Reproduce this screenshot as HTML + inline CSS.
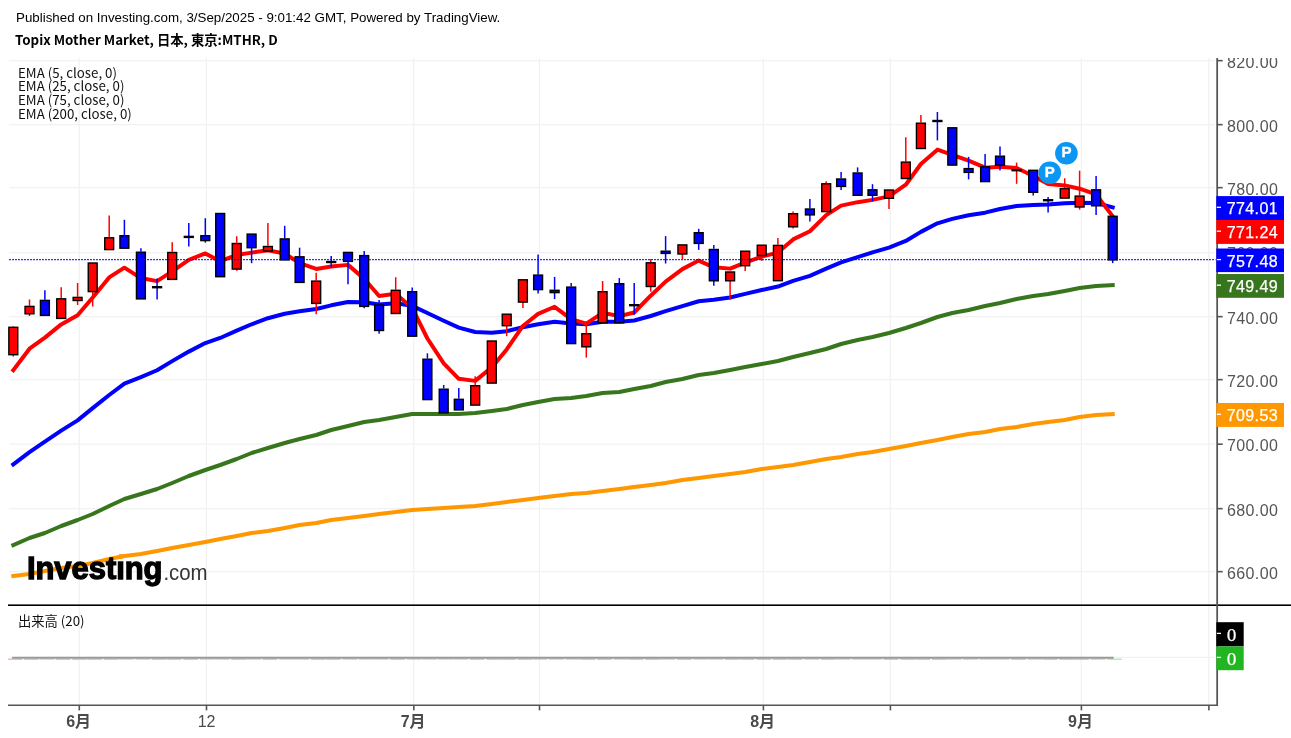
<!DOCTYPE html>
<html><head><meta charset="utf-8"><title>Topix Mother Market</title>
<style>
html,body{margin:0;padding:0;background:#fff;}
body{width:1291px;height:738px;position:relative;overflow:hidden;font-family:"Liberation Sans",sans-serif;}
.t{position:absolute;white-space:nowrap;color:#000;}
#pub{left:16px;top:10px;font-size:13.333px;line-height:16px;font-family:"Liberation Sans",sans-serif;}
#ttl{left:15px;top:31px;font-size:13.333px;line-height:18px;font-weight:bold;font-family:"Noto Sans CJK JP",sans-serif;}
.lg{left:18px;font-size:13.3px;line-height:14px;font-family:"Noto Sans CJK JP",sans-serif;color:#111;}
svg{position:absolute;left:0;top:0;}
</style></head><body>
<svg width="1291" height="738" viewBox="0 0 1291 738">
<line x1="9" x2="1215" y1="60.65" y2="60.65" stroke="#f1f1f1" stroke-width="1.25"/>
<line x1="9" x2="1215" y1="124.65" y2="124.65" stroke="#f1f1f1" stroke-width="1.25"/>
<line x1="9" x2="1215" y1="187.65" y2="187.65" stroke="#f1f1f1" stroke-width="1.25"/>
<line x1="9" x2="1215" y1="252.65" y2="252.65" stroke="#f1f1f1" stroke-width="1.25"/>
<line x1="9" x2="1215" y1="316.65" y2="316.65" stroke="#f1f1f1" stroke-width="1.25"/>
<line x1="9" x2="1215" y1="379.65" y2="379.65" stroke="#f1f1f1" stroke-width="1.25"/>
<line x1="9" x2="1215" y1="444.2" y2="444.2" stroke="#f1f1f1" stroke-width="1.25"/>
<line x1="9" x2="1215" y1="508.65" y2="508.65" stroke="#f1f1f1" stroke-width="1.25"/>
<line x1="9" x2="1215" y1="571.65" y2="571.65" stroke="#f1f1f1" stroke-width="1.25"/>
<line x1="9" x2="1215" y1="657.4" y2="657.4" stroke="#f1f1f1" stroke-width="1.25"/>
<line x1="79.2" x2="79.2" y1="58" y2="705" stroke="#f1f1f1" stroke-width="1.25"/>
<line x1="206.4" x2="206.4" y1="58" y2="705" stroke="#f1f1f1" stroke-width="1.25"/>
<line x1="413.7" x2="413.7" y1="58" y2="705" stroke="#f1f1f1" stroke-width="1.25"/>
<line x1="539.4" x2="539.4" y1="58" y2="705" stroke="#f1f1f1" stroke-width="1.25"/>
<line x1="763.3" x2="763.3" y1="58" y2="705" stroke="#f1f1f1" stroke-width="1.25"/>
<line x1="890.3" x2="890.3" y1="58" y2="705" stroke="#f1f1f1" stroke-width="1.25"/>
<line x1="1081.3" x2="1081.3" y1="58" y2="705" stroke="#f1f1f1" stroke-width="1.25"/>
<line x1="1208.8" x2="1208.8" y1="58" y2="705" stroke="#f1f1f1" stroke-width="1.25"/>
<polyline points="13.3,576 29.5,574 44.9,571 61.2,568 77.6,566 92.7,563 109.2,559 124.4,556 140.9,554 157.1,551 172.2,548 188.8,545 205.3,542 220.2,539 236.7,536 251.6,533 267.9,531 284.7,528 299.6,525 316.2,523 331.2,520 348,518 364.2,516 379.1,514 395.7,512 412.2,510 427.4,509 443.7,508 458.8,507 475.2,506 491.8,504 506.7,502 522.9,500 538.1,498 554.6,496 571.2,494 586.3,493 602.6,491 619.3,489 634.2,487 650.7,485 665.6,483 682.4,480 698.7,478 713.8,476 730.1,474 745.2,472 761.7,469 777.9,467 793.1,465 809.9,462 826.2,459 841.1,457 857.6,454 872.5,452 889,449 905.8,446 920.9,443 937.4,440 952.3,437 968.6,434 985.1,432 1000,429 1016.6,427 1033.2,424 1048.1,422 1064.7,420 1079.6,417 1096.1,415 1112.7,414" fill="none" stroke="#ff9800" stroke-width="4" stroke-linejoin="round" stroke-linecap="square"/>
<polyline points="13.3,545 29.5,538 44.9,533 61.2,526 77.6,520 92.7,514 109.2,506 124.4,499 140.9,494 157.1,489 172.2,483 188.8,476 205.3,470 220.2,465 236.7,459 251.6,453 267.9,448 284.7,443 299.6,439 316.2,435 331.2,430 348,426 364.2,422 379.1,420 395.7,417 412.2,414 427.4,414 443.7,414 458.8,414 475.2,413 491.8,411 506.7,409 522.9,405 538.1,402 554.6,399 571.2,398 586.3,396 602.6,393 619.3,392 634.2,389 650.7,386 665.6,382 682.4,379 698.7,375 713.8,373 730.1,370 745.2,367 761.7,364 777.9,361 793.1,357 809.9,353 826.2,349 841.1,344 857.6,340 872.5,337 889,333 905.8,328 920.9,323 937.4,317 952.3,313 968.6,310 985.1,306 1000,303 1016.6,299 1033.2,296 1048.1,294 1064.7,291 1079.6,288 1096.1,286 1112.7,285.2" fill="none" stroke="#38761d" stroke-width="4" stroke-linejoin="round" stroke-linecap="square"/>
<polyline points="13.3,464.4 29.5,452.19 44.9,441.67 61.2,430.63 77.6,420.32 92.7,408.17 109.2,395.01 124.4,383.72 140.9,377.19 157.1,370.27 172.2,361.16 188.8,351.6 205.3,343.06 220.2,337.96 236.7,330.64 251.6,324.26 267.9,318.22 284.7,313.73 299.6,311.32 316.2,308.95 331.2,305.33 348,301.95 364.2,302.3 379.1,304.47 395.7,303.32 412.2,305.85 427.4,313.06 443.7,320.74 458.8,327.6 475.2,332.02 491.8,332.65 506.7,331.18 522.9,327.17 538.1,324.28 554.6,321.85 571.2,323.52 586.3,324.25 602.6,321.69 619.3,321.78 634.2,320.5 650.7,316.01 665.6,311.19 682.4,306.04 698.7,301.22 713.8,299.65 730.1,297.47 745.2,293.86 761.7,290.06 777.9,286.57 793.1,280.91 809.9,275.83 826.2,268.7 841.1,262.37 857.6,257.21 872.5,252.45 889,247.59 905.8,240.96 920.9,231.85 937.4,223.32 952.3,218.84 968.6,215.27 985.1,212.68 1000,209.02 1016.6,206.03 1033.2,204.98 1048.1,204.61 1064.7,203.33 1079.6,202.72 1096.1,202.96 1112.7,207.34" fill="none" stroke="#0000ff" stroke-width="4" stroke-linejoin="round" stroke-linecap="square"/>
<polyline points="13.3,370.2 29.5,348.7 44.9,337.6 61.2,324.43 77.6,315.19 92.7,297.56 109.2,277.41 124.4,267.67 140.9,278.08 157.1,281.12 172.2,271.35 188.8,259.86 205.3,253.44 220.2,261.2 236.7,255.06 251.6,252.61 267.9,250.34 284.7,253.53 299.6,263.15 316.2,268.9 331.2,266.6 348,264.87 364.2,278.71 379.1,295.97 395.7,293.85 412.2,307.97 427.4,338.51 443.7,363.31 458.8,378.84 475.2,380.89 491.8,367.36 506.7,349.41 522.9,325.97 538.1,313.85 554.6,306.77 571.2,319.04 586.3,323.7 602.6,312.8 619.3,316.13 634.2,312.49 650.7,295.69 665.6,281.59 682.4,269.13 698.7,260.55 713.8,267.3 730.1,268.63 745.2,262.59 761.7,256.56 777.9,252.61 793.1,239.4 809.9,231.24 826.2,215.19 841.1,205.59 857.6,202.16 872.5,199.88 889,196.35 905.8,184.7 920.9,163.97 937.4,149.64 952.3,154.8 968.6,160.66 985.1,167.64 1000,166.8 1016.6,167.93 1033.2,176.05 1048.1,184.1 1064.7,185.4 1079.6,188.73 1096.1,194.42 1112.7,216.25" fill="none" stroke="#ff0000" stroke-width="4" stroke-linejoin="round" stroke-linecap="square"/>
<line x1="13.3" x2="13.3" y1="326" y2="326.6" stroke="#ff0000" stroke-width="1.5"/>
<line x1="13.3" x2="13.3" y1="354.7" y2="356.6" stroke="#ff0000" stroke-width="1.5"/>
<rect x="8.85" y="327.3" width="8.9" height="27.4" fill="#ff0000" stroke="#000" stroke-width="1.4"/>
<line x1="29.5" x2="29.5" y1="299.5" y2="305.7" stroke="#ff0000" stroke-width="1.5"/>
<line x1="29.5" x2="29.5" y1="313.8" y2="316" stroke="#ff0000" stroke-width="1.5"/>
<rect x="25.05" y="306.4" width="8.9" height="7.4" fill="#ff0000" stroke="#000" stroke-width="1.4"/>
<line x1="44.9" x2="44.9" y1="290.2" y2="299.7" stroke="#0000ff" stroke-width="1.5"/>
<rect x="40.45" y="300.4" width="8.9" height="15" fill="#0000ff" stroke="#000" stroke-width="1.4"/>
<line x1="61.2" x2="61.2" y1="287.3" y2="298.1" stroke="#ff0000" stroke-width="1.5"/>
<rect x="56.75" y="298.8" width="8.9" height="19.6" fill="#ff0000" stroke="#000" stroke-width="1.4"/>
<line x1="77.6" x2="77.6" y1="283" y2="296.7" stroke="#ff0000" stroke-width="1.5"/>
<line x1="77.6" x2="77.6" y1="300.5" y2="305.1" stroke="#ff0000" stroke-width="1.5"/>
<rect x="73.15" y="297.4" width="8.9" height="3.1" fill="#ff0000" stroke="#000" stroke-width="1.4"/>
<line x1="92.7" x2="92.7" y1="291.6" y2="306.5" stroke="#ff0000" stroke-width="1.5"/>
<rect x="88.25" y="263" width="8.9" height="28.6" fill="#ff0000" stroke="#000" stroke-width="1.4"/>
<line x1="109.2" x2="109.2" y1="215.4" y2="237.1" stroke="#ff0000" stroke-width="1.5"/>
<rect x="104.75" y="237.8" width="8.9" height="11.8" fill="#ff0000" stroke="#000" stroke-width="1.4"/>
<line x1="124.4" x2="124.4" y1="219.8" y2="235" stroke="#0000ff" stroke-width="1.5"/>
<rect x="119.95" y="235.7" width="8.9" height="12.5" fill="#0000ff" stroke="#000" stroke-width="1.4"/>
<line x1="140.9" x2="140.9" y1="248.2" y2="251.5" stroke="#0000ff" stroke-width="1.5"/>
<rect x="136.45" y="252.2" width="8.9" height="46.7" fill="#0000ff" stroke="#000" stroke-width="1.4"/>
<line x1="157.1" x2="157.1" y1="278.6" y2="287.2" stroke="#0000ff" stroke-width="1.5"/>
<line x1="157.1" x2="157.1" y1="287.2" y2="299.4" stroke="#0000ff" stroke-width="1.5"/>
<rect x="151.95" y="286" width="10.3" height="2.4" fill="#000"/>
<line x1="172.2" x2="172.2" y1="242.3" y2="251.8" stroke="#ff0000" stroke-width="1.5"/>
<rect x="167.75" y="252.5" width="8.9" height="26.9" fill="#ff0000" stroke="#000" stroke-width="1.4"/>
<line x1="188.8" x2="188.8" y1="223.1" y2="236.9" stroke="#0000ff" stroke-width="1.5"/>
<line x1="188.8" x2="188.8" y1="236.9" y2="246.6" stroke="#0000ff" stroke-width="1.5"/>
<rect x="183.65" y="235.7" width="10.3" height="2.4" fill="#000"/>
<line x1="205.3" x2="205.3" y1="218.2" y2="235" stroke="#0000ff" stroke-width="1.5"/>
<line x1="205.3" x2="205.3" y1="240.6" y2="242.6" stroke="#0000ff" stroke-width="1.5"/>
<rect x="200.85" y="235.7" width="8.9" height="4.9" fill="#0000ff" stroke="#000" stroke-width="1.4"/>
<rect x="215.75" y="213.5" width="8.9" height="63.2" fill="#0000ff" stroke="#000" stroke-width="1.4"/>
<line x1="236.7" x2="236.7" y1="236.3" y2="242.8" stroke="#ff0000" stroke-width="1.5"/>
<line x1="236.7" x2="236.7" y1="269.1" y2="270.8" stroke="#ff0000" stroke-width="1.5"/>
<rect x="232.25" y="243.5" width="8.9" height="25.6" fill="#ff0000" stroke="#000" stroke-width="1.4"/>
<line x1="251.6" x2="251.6" y1="247.7" y2="263.2" stroke="#0000ff" stroke-width="1.5"/>
<rect x="247.15" y="234.1" width="8.9" height="13.6" fill="#0000ff" stroke="#000" stroke-width="1.4"/>
<line x1="267.9" x2="267.9" y1="223.1" y2="245.8" stroke="#ff0000" stroke-width="1.5"/>
<rect x="263.45" y="246.5" width="8.9" height="4.5" fill="#ff0000" stroke="#000" stroke-width="1.4"/>
<line x1="284.7" x2="284.7" y1="225.8" y2="238.2" stroke="#0000ff" stroke-width="1.5"/>
<rect x="280.25" y="238.9" width="8.9" height="21" fill="#0000ff" stroke="#000" stroke-width="1.4"/>
<line x1="299.6" x2="299.6" y1="247.7" y2="256.1" stroke="#0000ff" stroke-width="1.5"/>
<rect x="295.15" y="256.8" width="8.9" height="25.6" fill="#0000ff" stroke="#000" stroke-width="1.4"/>
<line x1="316.2" x2="316.2" y1="272.8" y2="280.4" stroke="#ff0000" stroke-width="1.5"/>
<line x1="316.2" x2="316.2" y1="303.4" y2="314.2" stroke="#ff0000" stroke-width="1.5"/>
<rect x="311.75" y="281.1" width="8.9" height="22.3" fill="#ff0000" stroke="#000" stroke-width="1.4"/>
<line x1="331.2" x2="331.2" y1="256" y2="262" stroke="#0000ff" stroke-width="1.5"/>
<line x1="331.2" x2="331.2" y1="262" y2="267.4" stroke="#0000ff" stroke-width="1.5"/>
<rect x="326.05" y="260.8" width="10.3" height="2.4" fill="#000"/>
<line x1="348" x2="348" y1="261.4" y2="284.2" stroke="#0000ff" stroke-width="1.5"/>
<rect x="343.55" y="252.4" width="8.9" height="9" fill="#0000ff" stroke="#000" stroke-width="1.4"/>
<line x1="364.2" x2="364.2" y1="251.1" y2="254.9" stroke="#0000ff" stroke-width="1.5"/>
<line x1="364.2" x2="364.2" y1="306.4" y2="308.3" stroke="#0000ff" stroke-width="1.5"/>
<rect x="359.75" y="255.6" width="8.9" height="50.8" fill="#0000ff" stroke="#000" stroke-width="1.4"/>
<line x1="379.1" x2="379.1" y1="299.9" y2="304.3" stroke="#0000ff" stroke-width="1.5"/>
<line x1="379.1" x2="379.1" y1="330.5" y2="333.8" stroke="#0000ff" stroke-width="1.5"/>
<rect x="374.65" y="305" width="8.9" height="25.5" fill="#0000ff" stroke="#000" stroke-width="1.4"/>
<line x1="395.7" x2="395.7" y1="277.2" y2="289.6" stroke="#ff0000" stroke-width="1.5"/>
<rect x="391.25" y="290.3" width="8.9" height="23.2" fill="#ff0000" stroke="#000" stroke-width="1.4"/>
<line x1="412.2" x2="412.2" y1="287.5" y2="291" stroke="#0000ff" stroke-width="1.5"/>
<rect x="407.75" y="291.7" width="8.9" height="44.5" fill="#0000ff" stroke="#000" stroke-width="1.4"/>
<line x1="427.4" x2="427.4" y1="353.3" y2="358.5" stroke="#0000ff" stroke-width="1.5"/>
<rect x="422.95" y="359.2" width="8.9" height="40.4" fill="#0000ff" stroke="#000" stroke-width="1.4"/>
<line x1="443.7" x2="443.7" y1="385" y2="388.5" stroke="#0000ff" stroke-width="1.5"/>
<rect x="439.25" y="389.2" width="8.9" height="23.7" fill="#0000ff" stroke="#000" stroke-width="1.4"/>
<line x1="458.8" x2="458.8" y1="388" y2="398.6" stroke="#0000ff" stroke-width="1.5"/>
<rect x="454.35" y="399.3" width="8.9" height="10.6" fill="#0000ff" stroke="#000" stroke-width="1.4"/>
<line x1="475.2" x2="475.2" y1="376.3" y2="385" stroke="#ff0000" stroke-width="1.5"/>
<rect x="470.75" y="385.7" width="8.9" height="19.4" fill="#ff0000" stroke="#000" stroke-width="1.4"/>
<rect x="487.35" y="341" width="8.9" height="42.1" fill="#ff0000" stroke="#000" stroke-width="1.4"/>
<line x1="506.7" x2="506.7" y1="325.7" y2="336.2" stroke="#ff0000" stroke-width="1.5"/>
<rect x="502.25" y="314.2" width="8.9" height="11.5" fill="#ff0000" stroke="#000" stroke-width="1.4"/>
<line x1="522.9" x2="522.9" y1="302.1" y2="308" stroke="#ff0000" stroke-width="1.5"/>
<rect x="518.45" y="279.8" width="8.9" height="22.3" fill="#ff0000" stroke="#000" stroke-width="1.4"/>
<line x1="538.1" x2="538.1" y1="254.4" y2="274.4" stroke="#0000ff" stroke-width="1.5"/>
<line x1="538.1" x2="538.1" y1="289.6" y2="293.4" stroke="#0000ff" stroke-width="1.5"/>
<rect x="533.65" y="275.1" width="8.9" height="14.5" fill="#0000ff" stroke="#000" stroke-width="1.4"/>
<line x1="554.6" x2="554.6" y1="276.9" y2="289.6" stroke="#0000ff" stroke-width="1.5"/>
<line x1="554.6" x2="554.6" y1="292.6" y2="299.1" stroke="#0000ff" stroke-width="1.5"/>
<rect x="550.15" y="290.3" width="8.9" height="2.3" fill="#0000ff" stroke="#000" stroke-width="1.4"/>
<line x1="571.2" x2="571.2" y1="283.1" y2="286.4" stroke="#0000ff" stroke-width="1.5"/>
<rect x="566.75" y="287.1" width="8.9" height="56.5" fill="#0000ff" stroke="#000" stroke-width="1.4"/>
<line x1="586.3" x2="586.3" y1="324.9" y2="333" stroke="#ff0000" stroke-width="1.5"/>
<line x1="586.3" x2="586.3" y1="346.8" y2="357.6" stroke="#ff0000" stroke-width="1.5"/>
<rect x="581.85" y="333.7" width="8.9" height="13.1" fill="#ff0000" stroke="#000" stroke-width="1.4"/>
<line x1="602.6" x2="602.6" y1="281" y2="291" stroke="#ff0000" stroke-width="1.5"/>
<rect x="598.15" y="291.7" width="8.9" height="31.2" fill="#ff0000" stroke="#000" stroke-width="1.4"/>
<line x1="619.3" x2="619.3" y1="278.1" y2="283" stroke="#0000ff" stroke-width="1.5"/>
<rect x="614.85" y="283.7" width="8.9" height="39.1" fill="#0000ff" stroke="#000" stroke-width="1.4"/>
<line x1="634.2" x2="634.2" y1="283" y2="305.2" stroke="#0000ff" stroke-width="1.5"/>
<line x1="634.2" x2="634.2" y1="305.2" y2="314.7" stroke="#0000ff" stroke-width="1.5"/>
<rect x="629.05" y="304" width="10.3" height="2.4" fill="#000"/>
<line x1="650.7" x2="650.7" y1="259.1" y2="262.1" stroke="#ff0000" stroke-width="1.5"/>
<line x1="650.7" x2="650.7" y1="286.5" y2="291.7" stroke="#ff0000" stroke-width="1.5"/>
<rect x="646.25" y="262.8" width="8.9" height="23.7" fill="#ff0000" stroke="#000" stroke-width="1.4"/>
<line x1="665.6" x2="665.6" y1="236.1" y2="250.5" stroke="#0000ff" stroke-width="1.5"/>
<line x1="665.6" x2="665.6" y1="253.4" y2="263.5" stroke="#0000ff" stroke-width="1.5"/>
<rect x="661.15" y="251.2" width="8.9" height="2.2" fill="#0000ff" stroke="#000" stroke-width="1.4"/>
<line x1="682.4" x2="682.4" y1="254" y2="259.1" stroke="#ff0000" stroke-width="1.5"/>
<rect x="677.95" y="244.9" width="8.9" height="9.1" fill="#ff0000" stroke="#000" stroke-width="1.4"/>
<line x1="698.7" x2="698.7" y1="228.8" y2="232" stroke="#0000ff" stroke-width="1.5"/>
<line x1="698.7" x2="698.7" y1="243.4" y2="249.9" stroke="#0000ff" stroke-width="1.5"/>
<rect x="694.25" y="232.7" width="8.9" height="10.7" fill="#0000ff" stroke="#000" stroke-width="1.4"/>
<line x1="713.8" x2="713.8" y1="245" y2="248.8" stroke="#0000ff" stroke-width="1.5"/>
<line x1="713.8" x2="713.8" y1="280.8" y2="285.7" stroke="#0000ff" stroke-width="1.5"/>
<rect x="709.35" y="249.5" width="8.9" height="31.3" fill="#0000ff" stroke="#000" stroke-width="1.4"/>
<line x1="730.1" x2="730.1" y1="280.8" y2="299.8" stroke="#ff0000" stroke-width="1.5"/>
<rect x="725.65" y="272" width="8.9" height="8.8" fill="#ff0000" stroke="#000" stroke-width="1.4"/>
<line x1="745.2" x2="745.2" y1="265.7" y2="271" stroke="#ff0000" stroke-width="1.5"/>
<rect x="740.75" y="251.2" width="8.9" height="14.5" fill="#ff0000" stroke="#000" stroke-width="1.4"/>
<line x1="761.7" x2="761.7" y1="255.5" y2="260.9" stroke="#ff0000" stroke-width="1.5"/>
<rect x="757.25" y="245.2" width="8.9" height="10.3" fill="#ff0000" stroke="#000" stroke-width="1.4"/>
<line x1="777.9" x2="777.9" y1="237.9" y2="244.7" stroke="#ff0000" stroke-width="1.5"/>
<rect x="773.45" y="245.4" width="8.9" height="35.3" fill="#ff0000" stroke="#000" stroke-width="1.4"/>
<line x1="793.1" x2="793.1" y1="211.6" y2="213" stroke="#ff0000" stroke-width="1.5"/>
<line x1="793.1" x2="793.1" y1="226.8" y2="228.4" stroke="#ff0000" stroke-width="1.5"/>
<rect x="788.65" y="213.7" width="8.9" height="13.1" fill="#ff0000" stroke="#000" stroke-width="1.4"/>
<line x1="809.9" x2="809.9" y1="199.1" y2="208.3" stroke="#0000ff" stroke-width="1.5"/>
<line x1="809.9" x2="809.9" y1="214.9" y2="221.4" stroke="#0000ff" stroke-width="1.5"/>
<rect x="805.45" y="209" width="8.9" height="5.9" fill="#0000ff" stroke="#000" stroke-width="1.4"/>
<line x1="826.2" x2="826.2" y1="181.2" y2="183.1" stroke="#ff0000" stroke-width="1.5"/>
<rect x="821.75" y="183.8" width="8.9" height="27.8" fill="#ff0000" stroke="#000" stroke-width="1.4"/>
<line x1="841.1" x2="841.1" y1="172" y2="178.3" stroke="#0000ff" stroke-width="1.5"/>
<line x1="841.1" x2="841.1" y1="186.4" y2="189.9" stroke="#0000ff" stroke-width="1.5"/>
<rect x="836.65" y="179" width="8.9" height="7.4" fill="#0000ff" stroke="#000" stroke-width="1.4"/>
<line x1="857.6" x2="857.6" y1="167.4" y2="172.3" stroke="#0000ff" stroke-width="1.5"/>
<rect x="853.15" y="173" width="8.9" height="22.3" fill="#0000ff" stroke="#000" stroke-width="1.4"/>
<line x1="872.5" x2="872.5" y1="184.2" y2="189.1" stroke="#0000ff" stroke-width="1.5"/>
<line x1="872.5" x2="872.5" y1="195.3" y2="201.3" stroke="#0000ff" stroke-width="1.5"/>
<rect x="868.05" y="189.8" width="8.9" height="5.5" fill="#0000ff" stroke="#000" stroke-width="1.4"/>
<line x1="889" x2="889" y1="198.3" y2="208.9" stroke="#ff0000" stroke-width="1.5"/>
<rect x="884.55" y="190" width="8.9" height="8.3" fill="#ff0000" stroke="#000" stroke-width="1.4"/>
<line x1="905.8" x2="905.8" y1="137.3" y2="161.4" stroke="#ff0000" stroke-width="1.5"/>
<rect x="901.35" y="162.1" width="8.9" height="16.4" fill="#ff0000" stroke="#000" stroke-width="1.4"/>
<line x1="920.9" x2="920.9" y1="114.9" y2="122.5" stroke="#ff0000" stroke-width="1.5"/>
<rect x="916.45" y="123.2" width="8.9" height="25.3" fill="#ff0000" stroke="#000" stroke-width="1.4"/>
<line x1="937.4" x2="937.4" y1="112" y2="121" stroke="#0000ff" stroke-width="1.5"/>
<line x1="937.4" x2="937.4" y1="121" y2="140.4" stroke="#0000ff" stroke-width="1.5"/>
<rect x="932.25" y="119.8" width="10.3" height="2.4" fill="#000"/>
<rect x="947.85" y="127.8" width="8.9" height="37.3" fill="#0000ff" stroke="#000" stroke-width="1.4"/>
<line x1="968.6" x2="968.6" y1="156.9" y2="167.9" stroke="#0000ff" stroke-width="1.5"/>
<line x1="968.6" x2="968.6" y1="172.4" y2="179.4" stroke="#0000ff" stroke-width="1.5"/>
<rect x="964.15" y="168.6" width="8.9" height="3.8" fill="#0000ff" stroke="#000" stroke-width="1.4"/>
<line x1="985.1" x2="985.1" y1="154" y2="166.1" stroke="#0000ff" stroke-width="1.5"/>
<rect x="980.65" y="166.8" width="8.9" height="14.8" fill="#0000ff" stroke="#000" stroke-width="1.4"/>
<line x1="1000" x2="1000" y1="146.4" y2="155.5" stroke="#0000ff" stroke-width="1.5"/>
<line x1="1000" x2="1000" y1="165.1" y2="170.5" stroke="#0000ff" stroke-width="1.5"/>
<rect x="995.55" y="156.2" width="8.9" height="8.9" fill="#0000ff" stroke="#000" stroke-width="1.4"/>
<line x1="1016.6" x2="1016.6" y1="162.6" y2="170.2" stroke="#ff0000" stroke-width="1.5"/>
<line x1="1016.6" x2="1016.6" y1="170.2" y2="183.8" stroke="#ff0000" stroke-width="1.5"/>
<rect x="1011.45" y="169" width="10.3" height="2.4" fill="#000"/>
<line x1="1033.2" x2="1033.2" y1="192.3" y2="195.5" stroke="#0000ff" stroke-width="1.5"/>
<rect x="1028.75" y="170.3" width="8.9" height="22" fill="#0000ff" stroke="#000" stroke-width="1.4"/>
<line x1="1048.1" x2="1048.1" y1="197.1" y2="200.2" stroke="#0000ff" stroke-width="1.5"/>
<line x1="1048.1" x2="1048.1" y1="200.2" y2="212.4" stroke="#0000ff" stroke-width="1.5"/>
<rect x="1042.95" y="199" width="10.3" height="2.4" fill="#000"/>
<line x1="1064.7" x2="1064.7" y1="178.3" y2="188" stroke="#ff0000" stroke-width="1.5"/>
<rect x="1060.25" y="188.7" width="8.9" height="9.4" fill="#ff0000" stroke="#000" stroke-width="1.4"/>
<line x1="1079.6" x2="1079.6" y1="170.7" y2="195.4" stroke="#ff0000" stroke-width="1.5"/>
<line x1="1079.6" x2="1079.6" y1="207" y2="209.7" stroke="#ff0000" stroke-width="1.5"/>
<rect x="1075.15" y="196.1" width="8.9" height="10.9" fill="#ff0000" stroke="#000" stroke-width="1.4"/>
<line x1="1096.1" x2="1096.1" y1="176.1" y2="189.1" stroke="#0000ff" stroke-width="1.5"/>
<line x1="1096.1" x2="1096.1" y1="205.8" y2="215.1" stroke="#0000ff" stroke-width="1.5"/>
<rect x="1091.65" y="189.8" width="8.9" height="16" fill="#0000ff" stroke="#000" stroke-width="1.4"/>
<line x1="1112.7" x2="1112.7" y1="259.9" y2="263.1" stroke="#0000ff" stroke-width="1.5"/>
<rect x="1108.25" y="216.3" width="8.9" height="43.6" fill="#0000ff" stroke="#000" stroke-width="1.4"/>
<line x1="9" x2="1215.5" y1="259.7" y2="259.7" stroke="#0000ff" stroke-width="1" stroke-dasharray="2 1"/>
<circle cx="1049.8" cy="172.7" r="11.3" fill="#0a96f2"/>
<text x="1049.8" y="176.6" text-anchor="middle" font-family="Liberation Sans, sans-serif" font-weight="bold" font-size="15" fill="#fff" stroke="#fff" stroke-width="0.4">P</text>
<circle cx="1066.4" cy="153.3" r="11.3" fill="#0a96f2"/>
<text x="1066.4" y="157.20000000000002" text-anchor="middle" font-family="Liberation Sans, sans-serif" font-weight="bold" font-size="15" fill="#fff" stroke="#fff" stroke-width="0.4">P</text>
<rect x="7.9" y="658.5" width="14.6" height="1.5" fill="#f3bcbc"/>
<rect x="24.1" y="658.5" width="14.6" height="1.5" fill="#f3bcbc"/>
<rect x="39.5" y="658.5" width="14.6" height="1.5" fill="#b6eeb6"/>
<rect x="55.8" y="658.5" width="14.6" height="1.5" fill="#f3bcbc"/>
<rect x="72.2" y="658.5" width="14.6" height="1.5" fill="#f3bcbc"/>
<rect x="87.3" y="658.5" width="14.6" height="1.5" fill="#f3bcbc"/>
<rect x="103.8" y="658.5" width="14.6" height="1.5" fill="#f3bcbc"/>
<rect x="119" y="658.5" width="14.6" height="1.5" fill="#b6eeb6"/>
<rect x="135.5" y="658.5" width="14.6" height="1.5" fill="#b6eeb6"/>
<rect x="151.7" y="658.5" width="14.6" height="1.5" fill="#f3bcbc"/>
<rect x="166.8" y="658.5" width="14.6" height="1.5" fill="#f3bcbc"/>
<rect x="183.4" y="658.5" width="14.6" height="1.5" fill="#f3bcbc"/>
<rect x="199.9" y="658.5" width="14.6" height="1.5" fill="#b6eeb6"/>
<rect x="214.8" y="658.5" width="14.6" height="1.5" fill="#b6eeb6"/>
<rect x="231.3" y="658.5" width="14.6" height="1.5" fill="#f3bcbc"/>
<rect x="246.2" y="658.5" width="14.6" height="1.5" fill="#b6eeb6"/>
<rect x="262.5" y="658.5" width="14.6" height="1.5" fill="#f3bcbc"/>
<rect x="279.3" y="658.5" width="14.6" height="1.5" fill="#b6eeb6"/>
<rect x="294.2" y="658.5" width="14.6" height="1.5" fill="#b6eeb6"/>
<rect x="310.8" y="658.5" width="14.6" height="1.5" fill="#f3bcbc"/>
<rect x="325.8" y="658.5" width="14.6" height="1.5" fill="#f3bcbc"/>
<rect x="342.6" y="658.5" width="14.6" height="1.5" fill="#b6eeb6"/>
<rect x="358.8" y="658.5" width="14.6" height="1.5" fill="#b6eeb6"/>
<rect x="373.7" y="658.5" width="14.6" height="1.5" fill="#b6eeb6"/>
<rect x="390.3" y="658.5" width="14.6" height="1.5" fill="#f3bcbc"/>
<rect x="406.8" y="658.5" width="14.6" height="1.5" fill="#b6eeb6"/>
<rect x="422" y="658.5" width="14.6" height="1.5" fill="#b6eeb6"/>
<rect x="438.3" y="658.5" width="14.6" height="1.5" fill="#b6eeb6"/>
<rect x="453.4" y="658.5" width="14.6" height="1.5" fill="#b6eeb6"/>
<rect x="469.8" y="658.5" width="14.6" height="1.5" fill="#f3bcbc"/>
<rect x="486.4" y="658.5" width="14.6" height="1.5" fill="#f3bcbc"/>
<rect x="501.3" y="658.5" width="14.6" height="1.5" fill="#f3bcbc"/>
<rect x="517.5" y="658.5" width="14.6" height="1.5" fill="#f3bcbc"/>
<rect x="532.7" y="658.5" width="14.6" height="1.5" fill="#b6eeb6"/>
<rect x="549.2" y="658.5" width="14.6" height="1.5" fill="#b6eeb6"/>
<rect x="565.8" y="658.5" width="14.6" height="1.5" fill="#b6eeb6"/>
<rect x="580.9" y="658.5" width="14.6" height="1.5" fill="#f3bcbc"/>
<rect x="597.2" y="658.5" width="14.6" height="1.5" fill="#f3bcbc"/>
<rect x="613.9" y="658.5" width="14.6" height="1.5" fill="#b6eeb6"/>
<rect x="628.8" y="658.5" width="14.6" height="1.5" fill="#f3bcbc"/>
<rect x="645.3" y="658.5" width="14.6" height="1.5" fill="#f3bcbc"/>
<rect x="660.2" y="658.5" width="14.6" height="1.5" fill="#b6eeb6"/>
<rect x="677" y="658.5" width="14.6" height="1.5" fill="#f3bcbc"/>
<rect x="693.3" y="658.5" width="14.6" height="1.5" fill="#b6eeb6"/>
<rect x="708.4" y="658.5" width="14.6" height="1.5" fill="#b6eeb6"/>
<rect x="724.7" y="658.5" width="14.6" height="1.5" fill="#f3bcbc"/>
<rect x="739.8" y="658.5" width="14.6" height="1.5" fill="#f3bcbc"/>
<rect x="756.3" y="658.5" width="14.6" height="1.5" fill="#f3bcbc"/>
<rect x="772.5" y="658.5" width="14.6" height="1.5" fill="#f3bcbc"/>
<rect x="787.7" y="658.5" width="14.6" height="1.5" fill="#f3bcbc"/>
<rect x="804.5" y="658.5" width="14.6" height="1.5" fill="#b6eeb6"/>
<rect x="820.8" y="658.5" width="14.6" height="1.5" fill="#f3bcbc"/>
<rect x="835.7" y="658.5" width="14.6" height="1.5" fill="#b6eeb6"/>
<rect x="852.2" y="658.5" width="14.6" height="1.5" fill="#b6eeb6"/>
<rect x="867.1" y="658.5" width="14.6" height="1.5" fill="#b6eeb6"/>
<rect x="883.6" y="658.5" width="14.6" height="1.5" fill="#f3bcbc"/>
<rect x="900.4" y="658.5" width="14.6" height="1.5" fill="#f3bcbc"/>
<rect x="915.5" y="658.5" width="14.6" height="1.5" fill="#f3bcbc"/>
<rect x="932" y="658.5" width="14.6" height="1.5" fill="#f3bcbc"/>
<rect x="946.9" y="658.5" width="14.6" height="1.5" fill="#b6eeb6"/>
<rect x="963.2" y="658.5" width="14.6" height="1.5" fill="#b6eeb6"/>
<rect x="979.7" y="658.5" width="14.6" height="1.5" fill="#b6eeb6"/>
<rect x="994.6" y="658.5" width="14.6" height="1.5" fill="#b6eeb6"/>
<rect x="1011.2" y="658.5" width="14.6" height="1.5" fill="#f3bcbc"/>
<rect x="1027.8" y="658.5" width="14.6" height="1.5" fill="#b6eeb6"/>
<rect x="1042.7" y="658.5" width="14.6" height="1.5" fill="#f3bcbc"/>
<rect x="1059.3" y="658.5" width="14.6" height="1.5" fill="#f3bcbc"/>
<rect x="1074.2" y="658.5" width="14.6" height="1.5" fill="#f3bcbc"/>
<rect x="1090.7" y="658.5" width="14.6" height="1.5" fill="#b6eeb6"/>
<rect x="1107.3" y="658.5" width="14.6" height="1.5" fill="#b6eeb6"/>
<line x1="12.1" x2="1113.7" y1="657.7" y2="657.7" stroke="#999" stroke-width="1.9"/>
<rect x="8" y="604.4" width="1283" height="1.6" fill="#000"/>
<rect x="1216.3" y="58" width="1.75" height="648" fill="#555"/>
<rect x="8" y="704.5" width="1210" height="1.5" fill="#555"/>
<rect x="78.5" y="705" width="1.6" height="5.4" fill="#555"/>
<rect x="205.7" y="705" width="1.6" height="5.4" fill="#555"/>
<rect x="413" y="705" width="1.6" height="5.4" fill="#555"/>
<rect x="538.7" y="705" width="1.6" height="5.4" fill="#555"/>
<rect x="762.6" y="705" width="1.6" height="5.4" fill="#555"/>
<rect x="889.6" y="705" width="1.6" height="5.4" fill="#555"/>
<rect x="1080.6" y="705" width="1.6" height="5.4" fill="#555"/>
<rect x="1208.1" y="705" width="1.6" height="5.4" fill="#555"/>
<rect x="1217" y="59.85" width="5.7" height="1.6" fill="#555"/>
<text x="1226.9" y="67.85" font-family="Liberation Sans, sans-serif" font-size="16" letter-spacing="0.4" fill="#555">820.00</text>
<rect x="1217" y="123.85" width="5.7" height="1.6" fill="#555"/>
<text x="1226.9" y="131.85" font-family="Liberation Sans, sans-serif" font-size="16" letter-spacing="0.4" fill="#555">800.00</text>
<rect x="1217" y="186.85" width="5.7" height="1.6" fill="#555"/>
<text x="1226.9" y="194.85" font-family="Liberation Sans, sans-serif" font-size="16" letter-spacing="0.4" fill="#555">780.00</text>
<rect x="1217" y="251.85" width="5.7" height="1.6" fill="#555"/>
<text x="1226.9" y="258.85" font-family="Liberation Sans, sans-serif" font-size="16" letter-spacing="0.4" fill="#555">760.00</text>
<rect x="1217" y="315.85" width="5.7" height="1.6" fill="#555"/>
<text x="1226.9" y="323.85" font-family="Liberation Sans, sans-serif" font-size="16" letter-spacing="0.4" fill="#555">740.00</text>
<rect x="1217" y="378.85" width="5.7" height="1.6" fill="#555"/>
<text x="1226.9" y="386.85" font-family="Liberation Sans, sans-serif" font-size="16" letter-spacing="0.4" fill="#555">720.00</text>
<rect x="1217" y="443.4" width="5.7" height="1.6" fill="#555"/>
<text x="1226.9" y="451.4" font-family="Liberation Sans, sans-serif" font-size="16" letter-spacing="0.4" fill="#555">700.00</text>
<rect x="1217" y="507.85" width="5.7" height="1.6" fill="#555"/>
<text x="1226.9" y="515.85" font-family="Liberation Sans, sans-serif" font-size="16" letter-spacing="0.4" fill="#555">680.00</text>
<rect x="1217" y="570.85" width="5.7" height="1.6" fill="#555"/>
<text x="1226.9" y="578.85" font-family="Liberation Sans, sans-serif" font-size="16" letter-spacing="0.4" fill="#555">660.00</text>
<rect x="1210" y="40" width="81" height="18" fill="#fff"/>
<rect x="1216.3" y="196.1" width="67.7" height="23.9" fill="#0000ff"/>
<rect x="1216.8" y="206.65" width="4.2" height="1.3" fill="#fff"/>
<text x="1226.7" y="214" font-family="Liberation Sans, sans-serif" font-size="16" letter-spacing="0.4" fill="#fff" stroke="#fff" stroke-width="0.25">774.01</text>
<rect x="1216.3" y="220" width="67.7" height="23.9" fill="#ff0000"/>
<rect x="1216.8" y="230.55" width="4.2" height="1.3" fill="#fff"/>
<text x="1226.7" y="238.1" font-family="Liberation Sans, sans-serif" font-size="16" letter-spacing="0.4" fill="#fff" stroke="#fff" stroke-width="0.25">771.24</text>
<rect x="1216.3" y="248.5" width="67.7" height="23.6" fill="#0000ff"/>
<rect x="1216.8" y="258.95" width="4.2" height="1.3" fill="#fff"/>
<text x="1226.7" y="267.1" font-family="Liberation Sans, sans-serif" font-size="16" letter-spacing="0.4" fill="#fff" stroke="#fff" stroke-width="0.25">757.48</text>
<rect x="1216.3" y="274" width="67.7" height="23.8" fill="#38761d"/>
<rect x="1216.8" y="284.55" width="4.2" height="1.3" fill="#fff"/>
<text x="1226.7" y="292.3" font-family="Liberation Sans, sans-serif" font-size="16" letter-spacing="0.4" fill="#fff" stroke="#fff" stroke-width="0.25">749.49</text>
<rect x="1216.3" y="403" width="67.7" height="23.9" fill="#ff9800"/>
<rect x="1216.8" y="413.65" width="4.2" height="1.3" fill="#fff"/>
<text x="1226.7" y="421.1" font-family="Liberation Sans, sans-serif" font-size="16" letter-spacing="0.4" fill="#fff" stroke="#fff" stroke-width="0.25">709.53</text>
<rect x="1216.3" y="622.2" width="27.4" height="24.2" fill="#000000"/>
<rect x="1216.8" y="632.75" width="4.2" height="1.3" fill="#fff"/>
<text x="1226.5" y="641.4" font-family="DejaVu Serif, serif" font-size="16" letter-spacing="0.4" fill="#fff" stroke="#fff" stroke-width="0.25">0</text>
<rect x="1216.3" y="646.4" width="27.4" height="23.8" fill="#22b522"/>
<rect x="1216.8" y="656.75" width="4.2" height="1.3" fill="#fff"/>
<text x="1226.5" y="665.4" font-family="DejaVu Serif, serif" font-size="16" letter-spacing="0.4" fill="#fff" stroke="#fff" stroke-width="0.25">0</text>
<text x="78.6" y="727.3" text-anchor="middle" font-family="Liberation Sans, Noto Sans CJK JP, sans-serif" font-weight="bold" font-size="16" fill="#4a4a4a">6月</text>
<text x="206.6" y="727.3" text-anchor="middle" font-family="Liberation Sans, Noto Sans CJK JP, sans-serif" font-weight="normal" font-size="16" fill="#4a4a4a">12</text>
<text x="413.1" y="727.3" text-anchor="middle" font-family="Liberation Sans, Noto Sans CJK JP, sans-serif" font-weight="bold" font-size="16" fill="#4a4a4a">7月</text>
<text x="762.6" y="727.3" text-anchor="middle" font-family="Liberation Sans, Noto Sans CJK JP, sans-serif" font-weight="bold" font-size="16" fill="#4a4a4a">8月</text>
<text x="1080.5" y="727.3" text-anchor="middle" font-family="Liberation Sans, Noto Sans CJK JP, sans-serif" font-weight="bold" font-size="16" fill="#4a4a4a">9月</text>
<text x="26.9" y="579.2" font-family="Liberation Sans, sans-serif" font-weight="bold" font-size="30.5" fill="#000" stroke="#000" stroke-width="1.3" stroke-linejoin="miter" textLength="135.6" lengthAdjust="spacingAndGlyphs">Investıng</text>
<circle cx="120.8" cy="556.6" r="2.6" fill="#ff9800"/>
<text x="163.4" y="580" font-family="Liberation Sans, sans-serif" font-size="22.5" fill="#333" textLength="44.2" lengthAdjust="spacingAndGlyphs">.com</text>
</svg>
<div class="t" id="pub">Published on Investing.com, 3/Sep/2025 - 9:01:42 GMT, Powered by TradingView.</div>
<div class="t" id="ttl">Topix Mother Market, 日本, 東京:MTHR, D</div>
<div class="t lg" style="top:66px">EMA (5, close, 0)</div>
<div class="t lg" style="top:79px">EMA (25, close, 0)</div>
<div class="t lg" style="top:93px">EMA (75, close, 0)</div>
<div class="t lg" style="top:107px">EMA (200, close, 0)</div>
<div class="t lg" style="top:614px">出来高 (20)</div>
</body></html>
